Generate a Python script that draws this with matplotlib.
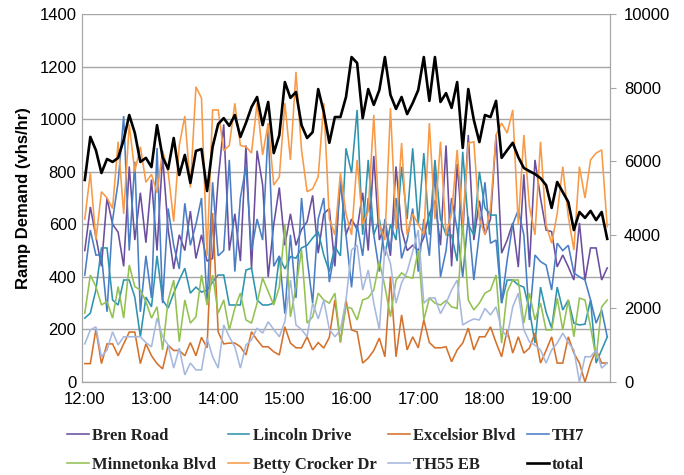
import matplotlib
matplotlib.use("Agg")
import matplotlib.pyplot as plt
import numpy as np

# 5-minute intervals, 12:00 .. 19:50
times = ["%d:%02d" % (12 + k // 12, (k % 12) * 5) for k in range(95)]
hour_labels = ["12:00", "13:00", "14:00", "15:00", "16:00", "17:00", "18:00", "19:00"]

bren_road = [500, 666, 553, 440, 700, 600, 570, 440, 820, 540, 720, 530,
             770, 500, 860, 580, 430, 560, 500, 650, 470, 560, 460, 470,
             770, 980, 500, 640, 460, 900, 430, 880, 750, 400, 600, 740,
             520, 640, 520, 580, 610, 710, 490, 640, 660, 440, 780, 560,
             620, 580, 720, 500, 860, 540, 600, 480, 820, 580, 500, 520,
             500, 550, 640, 690, 520, 900, 440, 830, 560, 940, 540, 690,
             560, 620, 940, 490, 540, 605, 437, 790, 437, 845, 700, 578,
             572, 438, 483, 438, 388, 605, 388, 510, 510, 388, 434]

lincoln_drive = [243, 262, 350, 510, 510, 312, 293, 388, 388, 323, 172, 323,
                 286, 480, 312, 281, 338, 388, 433, 338, 361, 342, 350, 380,
                 407, 407, 293, 293, 293, 426, 433, 312, 293, 293, 300, 477,
                 430, 477, 471, 510, 520, 548, 572, 483, 420, 515, 480, 889,
                 795, 1035, 560, 845, 560, 620, 480, 600, 540, 819, 620, 889,
                 600, 871, 560, 845, 620, 560, 559, 460, 876, 600, 559, 800,
                 662, 635, 635, 300, 388, 388, 369, 361, 274, 148, 361, 266,
                 205, 361, 274, 312, 224, 217, 220, 312, 72, 122, 171]

excelsior_blvd = [70, 70, 200, 70, 145, 145, 100, 145, 190, 190, 70, 145,
                  100, 70, 50, 140, 120, 120, 100, 150, 100, 170, 130, 643,
                  190, 145, 148, 148, 134, 103, 191, 160, 134, 134, 115, 103,
                  210, 148, 130, 130, 172, 122, 150, 129, 170, 312, 150, 312,
                  198, 191, 72, 91, 120, 167, 96, 401, 96, 255, 122, 172,
                  130, 236, 150, 130, 130, 134, 77, 122, 148, 205, 122, 172,
                  172, 210, 150, 96, 198, 110, 172, 110, 129, 186, 72, 120,
                  172, 72, 72, 172, 110, 72, 0, 72, 122, 72, 72]

th7 = [407, 578, 483, 483, 267, 616, 760, 1012, 500, 838, 267, 480,
       320, 890, 300, 660, 520, 430, 680, 520, 600, 700, 300, 760,
       480, 500, 845, 420, 700, 820, 500, 620, 540, 960, 440, 480,
       260, 560, 320, 700, 470, 300, 620, 700, 380, 500, 760, 560,
       360, 600, 480, 700, 560, 420, 620, 500, 700, 470, 540, 660,
       420, 620, 480, 800, 400, 500, 700, 580, 400, 629, 388, 567,
       760, 528, 540, 300, 464, 600, 654, 560, 236, 483, 458, 445,
       350, 528, 500, 520, 415, 400, 388, 312, 224, 274, 172]

minnetonka_blvd = [262, 407, 363, 293, 306, 243, 363, 243, 445, 363, 350, 306,
                   243, 286, 122, 312, 388, 153, 312, 224, 248, 407, 293, 407,
                   262, 312, 198, 281, 338, 236, 224, 300, 395, 344, 293, 361,
                   597, 248, 361, 502, 224, 248, 338, 312, 300, 338, 153, 286,
                   280, 236, 312, 320, 350, 458, 363, 248, 388, 415, 400, 395,
                   502, 236, 320, 300, 293, 310, 286, 280, 610, 312, 274, 300,
                   338, 350, 407, 148, 344, 388, 388, 224, 338, 236, 300, 198,
                   198, 319, 198, 312, 172, 319, 312, 210, 91, 286, 312]

betty_crocker_dr = [620, 795, 540, 724, 700, 660, 914, 640, 980, 800, 895, 760,
                    790, 720, 880, 800, 610, 900, 1012, 740, 1123, 1080, 480, 1035,
                    1035, 880, 900, 1060, 900, 895, 871, 1061, 864, 985, 749, 780,
                    1061, 845, 1180, 883, 724, 735, 781, 1061, 620, 560, 795, 640,
                    560, 845, 600, 650, 1016, 600, 540, 1042, 580, 909, 560, 640,
                    600, 560, 985, 620, 914, 560, 640, 883, 600, 909, 914, 620,
                    560, 660, 940, 985, 947, 1035, 600, 940, 667, 560, 914, 597,
                    528, 640, 819, 629, 502, 819, 700, 845, 871, 883, 591]

th55_eb = [145, 198, 210, 96, 122, 191, 141, 172, 172, 172, 172, 150,
           134, 243, 172, 141, 53, 129, 27, 72, 46, 46, 167, 96,
           53, 217, 172, 134, 53, 141, 160, 205, 186, 229, 200, 172,
           230, 388, 217, 200, 172, 300, 240, 312, 200, 172, 198, 312,
           502, 521, 350, 426, 300, 198, 515, 450, 300, 377, 420, 496,
           578, 300, 320, 320, 260, 300, 350, 388, 217, 230, 240, 236,
           280, 255, 286, 198, 172, 286, 338, 198, 153, 140, 122, 72,
           122, 148, 186, 150, 122, 0, 96, 96, 122, 53, 72]

total = [5490, 6660, 6300, 5680, 6060, 5980, 6090, 6580, 7255, 6770, 5980, 6090,
         5840, 6980, 6110, 5790, 6630, 5625, 6170, 5410, 6280, 6330, 5190, 6390,
         7010, 7170, 6960, 7255, 6660, 7040, 7470, 7745, 6980, 7610, 6220, 6710,
         8150, 7720, 7880, 6980, 6630, 6790, 7960, 7340, 6500, 7200, 7200, 7745,
         8830, 8670, 7170, 7960, 7530, 7935, 8830, 7800, 7420, 7745, 7280, 7580,
         7935, 8830, 7640, 8830, 7610, 7850, 7450, 8150, 6360, 7960, 7120, 6520,
         7255, 7200, 7640, 6090, 6300, 6500, 6110, 5815, 5730, 5650, 5540, 5350,
         4730, 5435, 5160, 4890, 4130, 4620, 4460, 4650, 4400, 4620, 3890]

series = [
    ("Bren Road", bren_road, "#6B4E9E"),
    ("Lincoln Drive", lincoln_drive, "#2E93AF"),
    ("Excelsior Blvd", excelsior_blvd, "#D4712B"),
    ("TH7", th7, "#4A7EC4"),
    ("Minnetonka Blvd", minnetonka_blvd, "#93C152"),
    ("Betty Crocker Dr", betty_crocker_dr, "#F89A46"),
    ("TH55 EB", th55_eb, "#A7B8DF"),
]

fig = plt.figure(figsize=(6.84, 4.75), dpi=100)
ax = fig.add_axes([82 / 684, 1 - 382 / 475, (610 - 82) / 684, (382 - 14) / 475])
x = np.arange(len(times))

handles = {}
for name, vals, col in series:
    h, = ax.plot(x, vals, color=col, lw=1.15, solid_joinstyle="miter")
    handles[name] = h

ax.set_ylim(0, 1400)
ax.set_yticks(range(0, 1401, 200))
ax.set_xlim(-0.5, len(times) - 0.5)
ax.set_xticks(x[::12])
ax.set_xticklabels(hour_labels)
ax.grid(axis="y", color="#A6A6A6", lw=1.0)
ax.set_axisbelow(True)
ax.spines["top"].set_visible(False)
for s in ["left", "bottom", "right"]:
    ax.spines[s].set_color("#A6A6A6")
ax.tick_params(axis="x", length=0, labelsize=12, pad=7)
ax.tick_params(axis="y", length=0, labelsize=12, pad=4)
ax.set_ylabel("Ramp Demand (vhs/hr)", fontsize=12, fontweight="bold", labelpad=6)

ax2 = ax.twinx()
h, = ax2.plot(x, total, color="black", lw=1.9)
handles["total"] = h
ax2.set_ylim(0, 10000)
ax2.set_yticks(range(0, 10001, 2000))
ax2.set_xlim(-0.5, len(times) - 0.5)
ax2.tick_params(axis="y", length=4, color="#A6A6A6", labelsize=12, pad=6)
ax2.spines["top"].set_visible(False)
for s in ["left", "bottom", "right"]:
    ax2.spines[s].set_color("#A6A6A6")

order = ["Bren Road", "Minnetonka Blvd", "Lincoln Drive", "Betty Crocker Dr",
         "Excelsior Blvd", "TH55 EB", "TH7", "total"]
leg = fig.legend([handles[n] for n in order], order, ncol=4,
                 loc="upper left", bbox_to_anchor=(52 / 684, 1 - 413 / 475),
                 frameon=False, handlelength=1.3, handletextpad=0.2,
                 columnspacing=0.7, labelspacing=0.78,
                 prop={"family": "Liberation Serif", "weight": "bold", "size": 12})
for t in leg.get_texts():
    t.set_color("#222222")

for lab in ax.get_xticklabels() + ax.get_yticklabels() + ax2.get_yticklabels():
    lab.set_fontfamily("Liberation Sans")
ax.yaxis.label.set_fontfamily("Liberation Sans")

fig.savefig("out.png", dpi=100)
